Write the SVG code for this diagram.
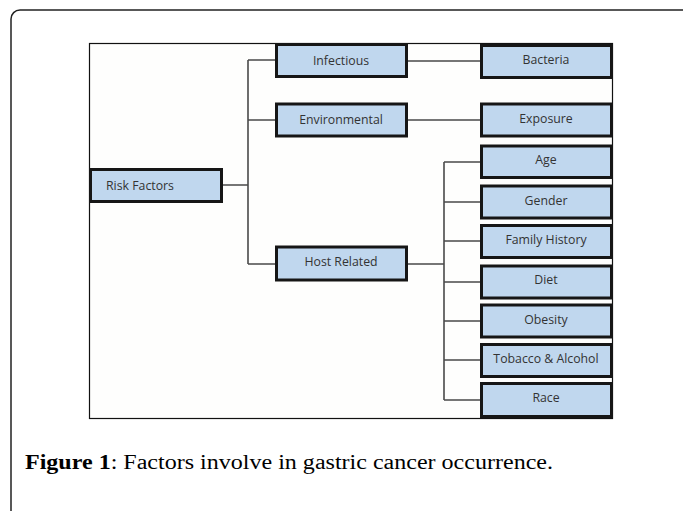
<svg xmlns="http://www.w3.org/2000/svg" width="683" height="511" viewBox="0 0 683 511">
<style>
.box{fill:#c0d7ee;stroke:#161616;stroke-width:3}
.lbl{font-family:"Open Sans","Liberation Sans",sans-serif;font-size:12.3px;fill:#333;text-anchor:middle;dominant-baseline:central}
.con{fill:none;stroke:#4a4a4a;stroke-width:1.6}
.cap{font-family:"Liberation Serif",serif;font-size:20px;fill:#000}
</style>
<rect x="0" y="0" width="683" height="511" fill="#fff"/>
<rect x="11" y="10" width="690" height="520" rx="9" fill="none" stroke="#222" stroke-width="1.5"/>
<rect x="89.5" y="43.5" width="523" height="375" fill="#fefefd" stroke="#111" stroke-width="1.2"/>
<g id="connectors">
<path class="con" d="M222 185H248M248 60V264M248 60H276M248 120H276M248 264H276"/>
<path class="con" d="M407 61H481M407 120H481"/>
<path class="con" d="M407 264H444M444 162V400M444 162H481M444 202H481M444 241H481M444 282H481M444 321H481M444 360H481M444 400H481"/>
</g>
<g id="risk-factors"><rect class="box" x="90.5" y="169.5" width="131" height="32"/><text class="lbl" x="140" y="185">Risk Factors</text></g>
<g id="infectious"><rect class="box" x="276.5" y="44.5" width="130" height="32"/><text class="lbl" x="341" y="60">Infectious</text></g>
<g id="environmental"><rect class="box" x="276.5" y="104" width="130" height="32"/><text class="lbl" x="341" y="119">Environmental</text></g>
<g id="host-related"><rect class="box" x="276.5" y="247" width="130" height="33"/><text class="lbl" x="341" y="261">Host Related</text></g>
<g id="bacteria"><rect class="box" x="481.5" y="45.5" width="130" height="32"/><text class="lbl" x="546" y="59">Bacteria</text></g>
<g id="exposure"><rect class="box" x="481.5" y="104" width="130" height="32"/><text class="lbl" x="546" y="118">Exposure</text></g>
<g id="age"><rect class="box" x="481.5" y="146" width="130" height="31.5"/><text class="lbl" x="546" y="159">Age</text></g>
<g id="gender"><rect class="box" x="481.5" y="186" width="130" height="32"/><text class="lbl" x="546" y="200">Gender</text></g>
<g id="family-history"><rect class="box" x="481.5" y="225.5" width="130" height="32"/><text class="lbl" x="546" y="239">Family History</text></g>
<g id="diet"><rect class="box" x="481.5" y="266" width="130" height="32"/><text class="lbl" x="546" y="279">Diet</text></g>
<g id="obesity"><rect class="box" x="481.5" y="305" width="130" height="32"/><text class="lbl" x="546" y="319">Obesity</text></g>
<g id="tobacco-alcohol"><rect class="box" x="481.5" y="344.5" width="130" height="32"/><text class="lbl" x="546" y="358">Tobacco &amp; Alcohol</text></g>
<g id="race"><rect class="box" x="481.5" y="383.5" width="130" height="33"/><text class="lbl" x="546" y="397">Race</text></g>
<text class="cap" x="25" y="469" textLength="528" lengthAdjust="spacingAndGlyphs"><tspan font-weight="bold">Figure 1</tspan>: Factors involve in gastric cancer occurrence.</text>
</svg>
